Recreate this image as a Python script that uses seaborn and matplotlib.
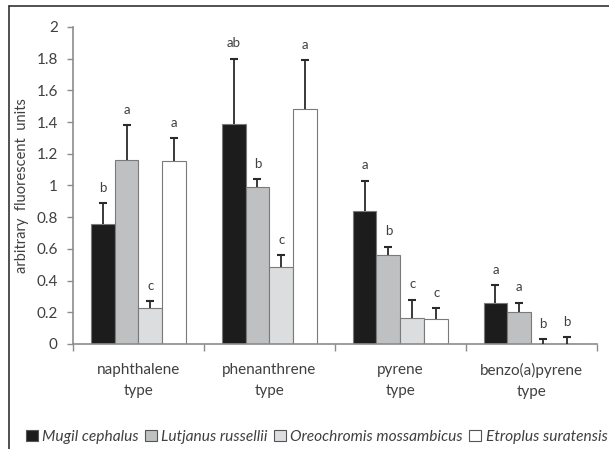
import matplotlib
matplotlib.use("Agg")
import matplotlib.pyplot as plt
import seaborn as sns
import pandas as pd
import numpy as np
from matplotlib.patches import Patch
from matplotlib.lines import Line2D

categories = ["naphthalene\ntype", "phenanthrene\ntype", "pyrene\ntype", "benzo(a)pyrene\ntype"]
species = ["Mugil cephalus", "Lutjanus russellii", "Oreochromis mossambicus", "Etroplus suratensis"]

mugil = [0.76, 1.39, 0.84, 0.26]
lutjanus = [1.16, 0.99, 0.56, 0.20]
oreochromis = [0.23, 0.485, 0.165, 0.0]
etroplus = [1.155, 1.48, 0.155, 0.0]

mugil_err = [0.13, 0.41, 0.19, 0.11]
lutjanus_err = [0.22, 0.05, 0.055, 0.06]
oreochromis_err = [0.04, 0.075, 0.115, 0.03]
etroplus_err = [0.145, 0.31, 0.07, 0.042]

mugil_sig = ["b", "ab", "a", "a"]
lutjanus_sig = ["a", "b", "b", "a"]
oreochromis_sig = ["c", "c", "c", "b"]
etroplus_sig = ["a", "a", "c", "b"]

yticks = [0, 0.2, 0.4, 0.6, 0.8, 1, 1.2, 1.4, 1.6, 1.8, 2]
ytick_labels = ["0", "0.2", "0.4", "0.6", "0.8", "1", "1.2", "1.4", "1.6", "1.8", "2"]
ylabel = "arbitrary  fluorescent  units"

values = [mugil, lutjanus, oreochromis, etroplus]
errs = [mugil_err, lutjanus_err, oreochromis_err, etroplus_err]
sigs = [mugil_sig, lutjanus_sig, oreochromis_sig, etroplus_sig]

df = pd.DataFrame({
    "category": [c for s in species for c in categories],
    "species": [s for s in species for c in categories],
    "value": [v for vals in values for v in vals],
})

sns.set_style("white")
plt.rcParams["font.family"] = ["Lato", "DejaVu Sans"]
text_col = "#404040"
axis_col = "#8c8c8c"
colors = ["#1c1c1c", "#bfc0c2", "#dcdddf", "#ffffff"]

fig = plt.figure(figsize=(6.09, 4.49), dpi=100)
ax = fig.add_axes([0.1199, 0.2339, 0.8601, 0.706])

sns.barplot(data=df, x="category", y="value", hue="species", order=categories,
            hue_order=species, palette=colors, edgecolor="#7a7a7a", linewidth=0.8,
            width=0.73, gap=0, errorbar=None, legend=False, ax=ax, saturation=1)

for cont, err, sig, vals in zip(ax.containers, errs, sigs, values):
    xs = [b.get_x() + b.get_width() / 2 for b in cont]
    eb = ax.errorbar(xs, vals, yerr=[np.zeros(len(vals)), err], fmt="none",
                     ecolor="#2a2a2a", elinewidth=1.3, capsize=3, capthick=1.5, zorder=3)
    caps = eb.lines[1]
    if len(caps) == 2:
        caps[0].set_visible(False)
    for x, v, e, s in zip(xs, vals, err, sig):
        ax.annotate(s, (x, v + e), xytext=(0, 11), textcoords="offset points",
                    ha="center", va="center", fontsize=9.5, color=text_col)

ax.set_ylim(0, 2)
ax.set_xlim(-0.5, 3.5)
ax.set_yticks(yticks)
ax.set_yticklabels(ytick_labels)
ax.set_xticks(range(len(categories)))
ax.set_xticklabels(categories, fontsize=11, color=text_col, linespacing=1.6)
ax.set_xticks([-0.5, 0.5, 1.5, 2.5, 3.5], minor=True)
ax.tick_params(axis="x", which="major", length=0, pad=14)
ax.tick_params(axis="x", which="minor", length=5, width=1, color=axis_col, direction="out", bottom=True)
ax.tick_params(axis="y", length=4, width=1, color=axis_col, direction="out", left=True,
               labelsize=11, labelcolor=text_col, pad=7)
ax.set_xlabel("")
ax.set_ylabel(ylabel, fontsize=10.5, color=text_col, labelpad=5)

for side in ["top", "right"]:
    ax.spines[side].set_visible(False)
for side in ["left", "bottom"]:
    ax.spines[side].set_color(axis_col)
    ax.spines[side].set_linewidth(1.2)

handles = [Patch(facecolor=c, edgecolor="#555555", linewidth=0.8) for c in colors]
leg = fig.legend(handles, species, loc="center", bbox_to_anchor=(0.52, 0.027), ncol=4,
                 frameon=False, handlelength=0.75, handleheight=0.75, handletextpad=0.3,
                 columnspacing=0.4, prop={"style": "italic", "size": 11.2})
for t in leg.get_texts():
    t.set_color(text_col)

# figure frame lines (left and top)
fig.add_artist(Line2D([9 / 609, 9 / 609], [0, 1 - 6 / 449], transform=fig.transFigure,
                      color="#333333", linewidth=1.2))
fig.add_artist(Line2D([9 / 609, 1], [1 - 6 / 449, 1 - 6 / 449], transform=fig.transFigure,
                      color="#333333", linewidth=1.2))

fig.savefig("out.png", dpi=100)
